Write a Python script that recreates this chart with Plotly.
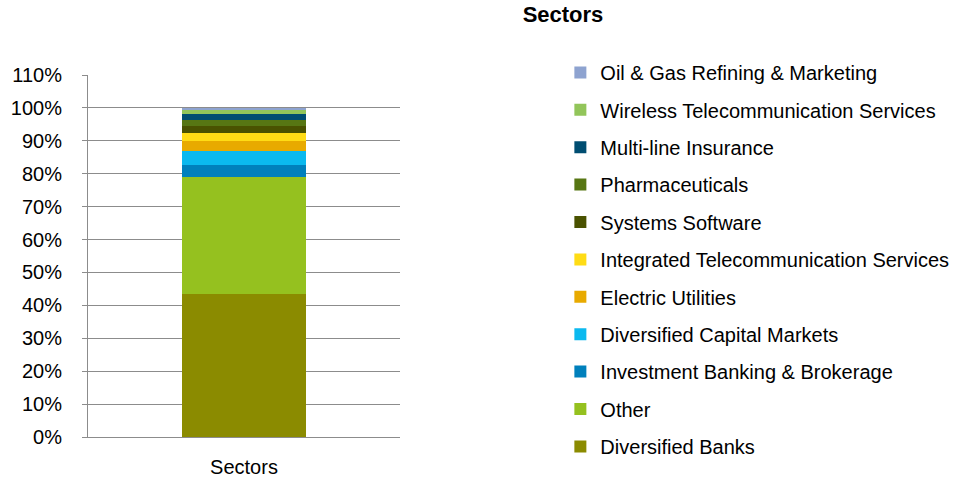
import plotly.graph_objects as go

category = ["Sectors"]
sectors = [
    "Diversified Banks",
    "Other",
    "Investment Banking & Brokerage",
    "Diversified Capital Markets",
    "Electric Utilities",
    "Integrated Telecommunication Services",
    "Systems Software",
    "Pharmaceuticals",
    "Multi-line Insurance",
    "Wireless Telecommunication Services",
    "Oil & Gas Refining & Marketing",
]
values = [0.435, 0.354, 0.039, 0.040, 0.032, 0.024, 0.021, 0.018, 0.019, 0.012, 0.006]
colors = ["#8B8B00", "#95C11F", "#0080BC", "#0BB9EF", "#E8AA00", "#FFDC15",
          "#4A5200", "#577613", "#004D71", "#92C55A", "#8EA3D0"]
y_ticks = [i / 10 for i in range(12)]
y_tick_labels = [f"{i*10}%" for i in range(12)]

FONT = "Liberation Sans"
fig = go.Figure()
n = len(sectors)
for i, (name, v, c) in enumerate(zip(sectors, values, colors)):
    fig.add_trace(go.Bar(x=category, y=[v], name=name, marker_color=c,
                         marker_line_width=0, legendgroup=name,
                         legendrank=n - i))

fig.update_layout(
    barmode="stack",
    bargap=0.6,
    width=957, height=479,
    margin=dict(l=88, r=557, t=75, b=42, autoexpand=False),
    paper_bgcolor="white", plot_bgcolor="white",
    font=dict(family=FONT, color="#000000"),
    title=dict(text="<b>Sectors</b>", x=563 / 957, xanchor="center", y=1 - 14 / 479,
               yanchor="middle", font=dict(size=22, family=FONT)),
    legend=dict(x=1.514, xanchor="left", y=1.061, yanchor="top",
                traceorder="grouped", tracegroupgap=8.4, maxheight=479,
                font=dict(size=20, family=FONT), itemwidth=30),
    showlegend=True,
)
fig.update_yaxes(range=[0, 1.1], tickvals=y_ticks, ticktext=y_tick_labels,
                 showgrid=True, gridcolor="#8C8C8C", gridwidth=1, automargin=False,
                 showline=True, linecolor="#8C8C8C", ticks="outside", ticklen=5,
                 tickcolor="#8C8C8C", tickfont=dict(size=20, family=FONT), zeroline=False,
                 ticklabelstandoff=16)
fig.update_xaxes(showline=True, linecolor="#8C8C8C", tickfont=dict(size=20, family=FONT),
                 ticks="", showgrid=False, automargin=False, ticklabelstandoff=12)

fig.write_html("out.html", config={"displayModeBar": False},
               post_script="document.body.style.margin='0';document.body.style.overflow='hidden';")
